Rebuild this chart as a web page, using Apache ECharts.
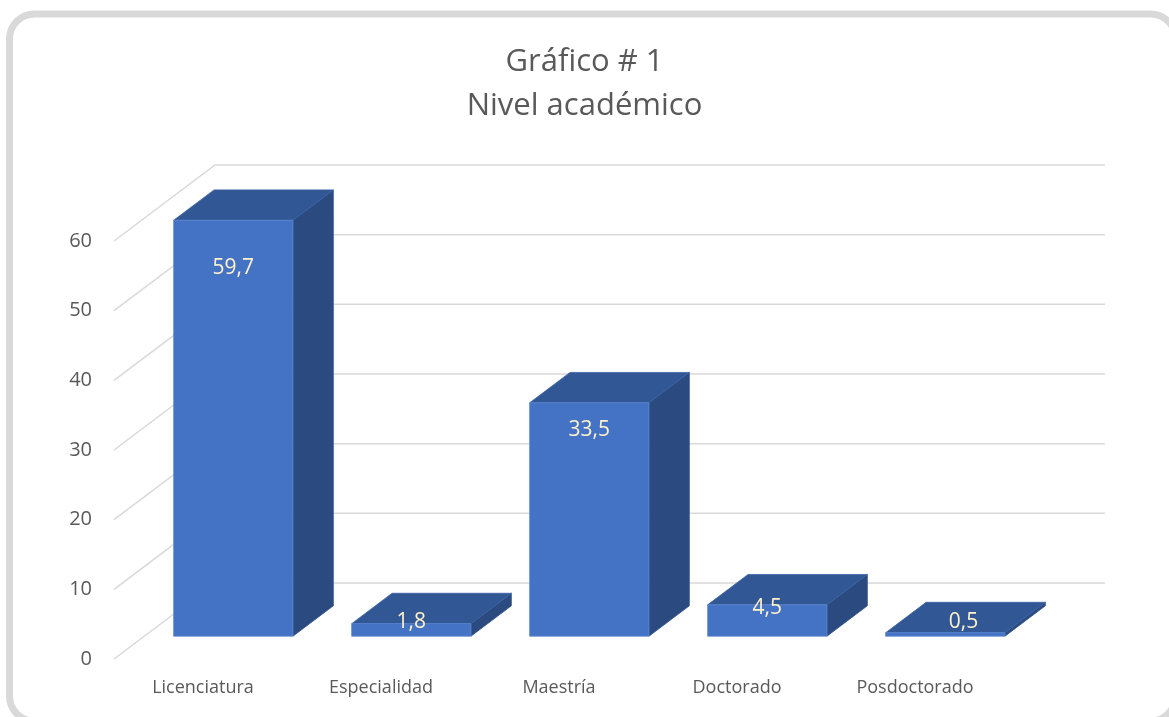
<!DOCTYPE html>
<html>
<head>
<meta charset="utf-8">
<script src="https://cdn.jsdelivr.net/npm/echarts@6/dist/echarts.min.js"></script>
<style>
  html, body { margin: 0; padding: 0; background: #fff; }
  #chart { width: 1169px; height: 717px; }
</style>
</head>
<body>
<div id="chart"></div>
<script>
// datos del gráfico
var categorias = ['Licenciatura', 'Especialidad', 'Maestría', 'Doctorado', 'Posdoctorado'];
var valores = [59.7, 1.8, 33.5, 4.5, 0.5];
var ticksY = [0, 10, 20, 30, 40, 50, 60];

// profundidad del efecto 3D (pixeles)
var DX = 101, DY = -76;
var FRENTE = 0.3, FONDO = 0.7, ANCHO = 0.67;
var FUENTE = '"Open Sans", "Noto Sans", sans-serif';

var chart = echarts.init(document.getElementById('chart'));

function paredes(params, api) {
  var cs = params.coordSys;
  var y = api.coord([0, api.value(0)])[1];
  var izq = cs.x, der = cs.x + cs.width;
  return {
    type: 'polyline',
    shape: { points: [[izq, y], [izq + DX, y + DY], [der + DX, y + DY]] },
    style: { stroke: '#d9d9d9', lineWidth: 1.5, fill: null }
  };
}

function barra3d(params, api) {
  var i = api.value(0), v = api.value(1);
  var top = api.coord([i, v]);
  var base = api.coord([i, 0]);
  var half = api.size([1, 0])[0] * ANCHO / 2;
  var xl = top[0] - half, xr = top[0] + half;
  var yt = top[1], yb = base[1];
  var fx = DX * FRENTE, fy = DY * FRENTE, bx = DX * FONDO, by = DY * FONDO;
  // etiqueta: dentro del extremo; en barras muy bajas va sobre la cara superior
  var lab = api.coord([i, Math.max(v * 0.885, 2)]);
  var lx = (yb - yt) < 8 ? DX * 0.48 : fx;
  return {
    type: 'group',
    children: [
      { type: 'polygon',
        shape: { points: [[xr + fx, yt + fy], [xr + bx, yt + by], [xr + bx, yb + by], [xr + fx, yb + fy]] },
        style: { fill: '#2b4a80', stroke: '#2f5189', lineWidth: 0.8 } },
      { type: 'polygon',
        shape: { points: [[xl + fx, yt + fy], [xr + fx, yt + fy], [xr + bx, yt + by], [xl + bx, yt + by]] },
        style: { fill: '#325795', stroke: '#3a62a6', lineWidth: 0.8 } },
      { type: 'rect',
        shape: { x: xl + fx, y: yt + fy, width: xr - xl, height: yb - yt },
        style: { fill: '#4472c4', stroke: '#5a86d0', lineWidth: 0.8 } },
      { type: 'text',
        x: lab[0] + lx, y: lab[1] + fy,
        style: { text: String(v).replace('.', ','), fill: '#fff2cc', font: '21px ' + FUENTE,
                 align: 'center', verticalAlign: 'middle' } }
    ]
  };
}

chart.setOption({
  animation: false,
  backgroundColor: '#fff',
  title: {
    text: 'Gráfico # 1\nNivel académico',
    left: 'center', top: 35,
    textStyle: { color: '#595959', fontSize: 31, fontWeight: 'normal', fontFamily: FUENTE, lineHeight: 44 }
  },
  grid: { left: 114, right: 165, top: 241, bottom: 58 },
  xAxis: {
    type: 'category',
    data: categorias,
    axisLine: { show: false },
    axisTick: { show: false },
    axisLabel: { color: '#595959', fontSize: 18, fontFamily: FUENTE, margin: 20 }
  },
  yAxis: {
    type: 'value',
    min: 0, max: 60, interval: 10,
    splitLine: { show: false },
    axisLine: { show: false },
    axisTick: { show: false },
    axisLabel: { color: '#595959', fontSize: 20, fontFamily: FUENTE, margin: 22 }
  },
  graphic: [{
    type: 'rect',
    shape: { x: 9.5, y: 14, width: 1166, height: 707, r: 25 },
    style: { fill: null, stroke: '#d9d9d9', lineWidth: 7 },
    silent: true
  }],
  series: [
    { type: 'custom', renderItem: paredes, data: ticksY.map(function (t) { return [t]; }), z: 1, silent: true },
    { type: 'custom', renderItem: barra3d, data: valores.map(function (v, i) { return [i, v]; }), z: 2 }
  ]
});
</script>
</body>
</html>
